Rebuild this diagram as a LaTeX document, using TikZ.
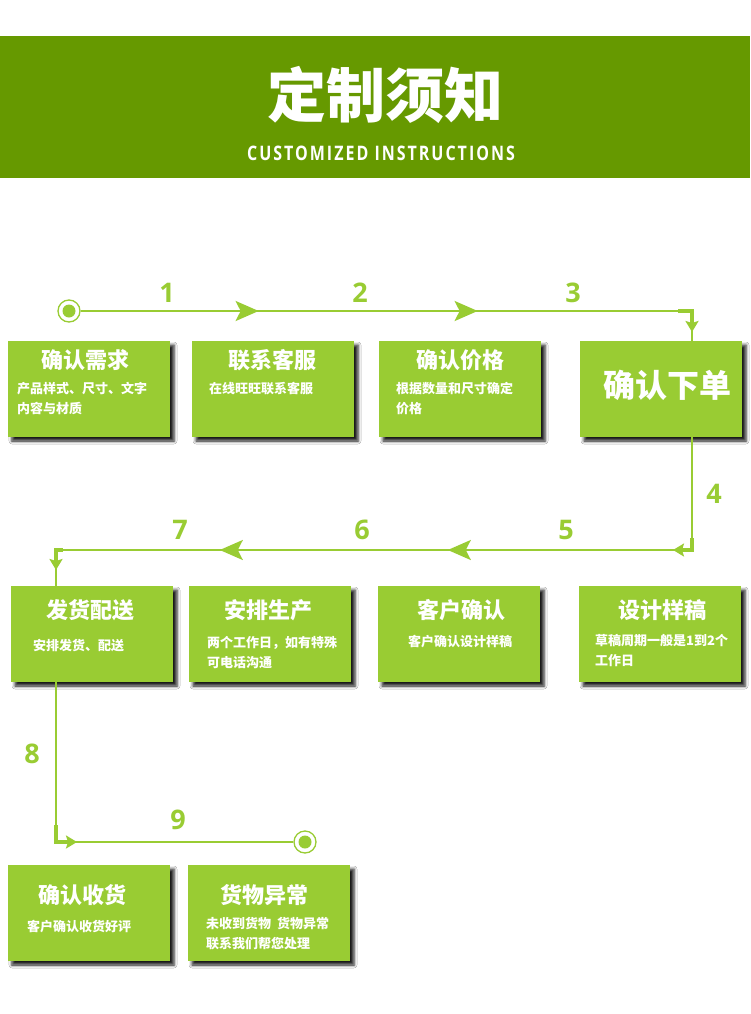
\documentclass[tikz,border=0pt]{standalone}
\usepackage{fontspec}
\setmainfont{Noto Sans CJK SC}
\newfontfamily\subtitlefont[FakeStretch=0.8,LetterSpace=10]{Open Sans}
\newfontfamily\numfont{Open Sans}
\usetikzlibrary{arrows.meta,decorations.markings,shadows.blur}
\definecolor{bannergreen}{RGB}{102,153,0}
\definecolor{boxgreen}{RGB}{153,204,51}
\tikzset{
    node style box/.style={fill=boxgreen,minimum width=162pt,minimum height=96pt,inner sep=0pt,
        blur shadow={shadow xshift=4pt,shadow yshift=-4pt,shadow blur radius=3pt,shadow opacity=90}},
    node style head/.style={text=white,font=\bfseries\fontsize{22pt}{22pt}\selectfont,inner sep=0pt},
    node style note/.style={text=white,font=\bfseries\fontsize{13pt}{20pt}\selectfont,align=left,anchor=north west,inner sep=0pt},
    node style num/.style={text=boxgreen,font=\numfont\bfseries\fontsize{27pt}{27pt}\selectfont,inner sep=0pt},
    node style end/.style={circle,draw=boxgreen,line width=1.3pt,minimum size=22pt,inner sep=0pt,
        path picture={\fill[boxgreen] (path picture bounding box.center) circle (6.5pt);}},
    arrow style flow/.style={draw=boxgreen,line width=2pt},
    arrow style corner/.style={draw=boxgreen,line width=4pt,-{Stealth[length=11pt,width=13pt,inset=2pt]}},
    mid arrows/.style 2 args={postaction={decorate},decoration={markings,
        mark=at position #1 with {\arrow[boxgreen]{Stealth[length=23pt,width=20pt,inset=5pt]}},
        mark=at position #2 with {\arrow[boxgreen]{Stealth[length=23pt,width=20pt,inset=5pt]}}}},
}

\begin{document}
\begin{tikzpicture}[x=1pt,y=-1pt]
\useasboundingbox (0,0) rectangle (750,1014);
\fill[white] (0,0) rectangle (750,1014);

% banner
\fill[bannergreen] (0,36) rectangle (750,178);
\node[text=white,font=\bfseries\fontsize{59pt}{59pt}\selectfont] (title) at (385,95) {定制须知};
\node[text=white,font=\subtitlefont\bfseries\fontsize{20pt}{20pt}\selectfont] (subtitle) at (381,153) {CUSTOMIZED INSTRUCTIONS};

% boxes
\node[node style box] (need) at (89,389) {};
\node[node style box] (service) at (273,389) {};
\node[node style box] (price) at (460,389) {};
\node[node style box] (order) at (661,389) {};
\node[node style box] (ship) at (92,634) {};
\node[node style box] (produce) at (270,634) {};
\node[node style box] (check) at (459,634) {};
\node[node style box] (design) at (660,634) {};
\node[node style box] (receive) at (89,913) {};
\node[node style box] (problem) at (269,913) {};

% box texts
\node[node style head] (needhead) at (85,360) {确认需求};
\node[node style head] (servicehead) at (272,360) {联系客服};
\node[node style head] (pricehead) at (460,360) {确认价格};
\node[node style head,font=\bfseries\fontsize{32pt}{32pt}\selectfont] (orderhead) at (667,385) {确认下单};
\node[node style head] (shiphead) at (90,610) {发货配送};
\node[node style head] (producehead) at (268,610) {安排生产};
\node[node style head] (checkhead) at (461,610) {客户确认};
\node[node style head] (designhead) at (662,610) {设计样稿};
\node[node style head] (receivehead) at (82,895) {确认收货};
\node[node style head] (problemhead) at (264,895) {货物异常};

\node[node style note] (neednote) at (17,382) {产品样式、尺寸、文字\\内容与材质};
\node[node style note] (servicenote) at (209,382) {在线旺旺联系客服};
\node[node style note] (pricenote) at (396,382) {根据数量和尺寸确定\\价格};
\node[node style note] (shipnote) at (33,639) {安排发货、配送};
\node[node style note] (producenote) at (207,636) {两个工作日，如有特殊\\可电话沟通};
\node[node style note,anchor=north] (checknote) at (460,635) {客户确认设计样稿};
\node[node style note] (designnote) at (595,634) {草稿周期一般是1到2个\\工作日};
\node[node style note] (receivenote) at (27,920) {客户确认收货好评};
\node[node style note] (problemnote) at (206,917) {未收到货物\hspace{6pt}货物异常\\联系我们帮您处理};

% step numbers
\node[node style num] (n1) at (167,293) {1};
\node[node style num] (n2) at (360,293) {2};
\node[node style num] (n3) at (573,293) {3};
\node[node style num] (n4) at (714,494) {4};
\node[node style num] (n5) at (566,530) {5};
\node[node style num] (n6) at (362,530) {6};
\node[node style num] (n7) at (180,530) {7};
\node[node style num] (n8) at (32,754) {8};
\node[node style num] (n9) at (178,820) {9};

% flow line
\node[node style end] (start) at (69,311) {};
\node[node style end] (stop) at (305,842) {};
\coordinate (c1) at (692,311);
\coordinate (c2) at (692,550);
\coordinate (c3) at (56,550);
\coordinate (c4) at (56,842);

\draw[arrow style flow,mid arrows={178pt}{397pt}] (start) -- (c1) -- (c1 |- order.north);
\draw[arrow style flow,mid arrows={357pt}{585pt}] (c1 |- order.south) -- (c2) -- (c3) -- (c3 |- ship.north);
\draw[arrow style flow] (c3 |- ship.south) -- (c4) -- (stop);

% corners
\draw[arrow style corner] ([xshift=-14pt]c1) -- (c1) -- ([yshift=-21pt]c1);
\draw[arrow style corner] ([yshift=12pt]c2) -- (c2) -- ([xshift=-19pt]c2);
\draw[arrow style corner] ([xshift=7pt]c3) -- (c3) -- ([yshift=-20pt]c3);
\draw[arrow style corner] ([yshift=17pt]c4) -- (c4) -- ([xshift=21pt]c4);

\end{tikzpicture}
\end{document}
